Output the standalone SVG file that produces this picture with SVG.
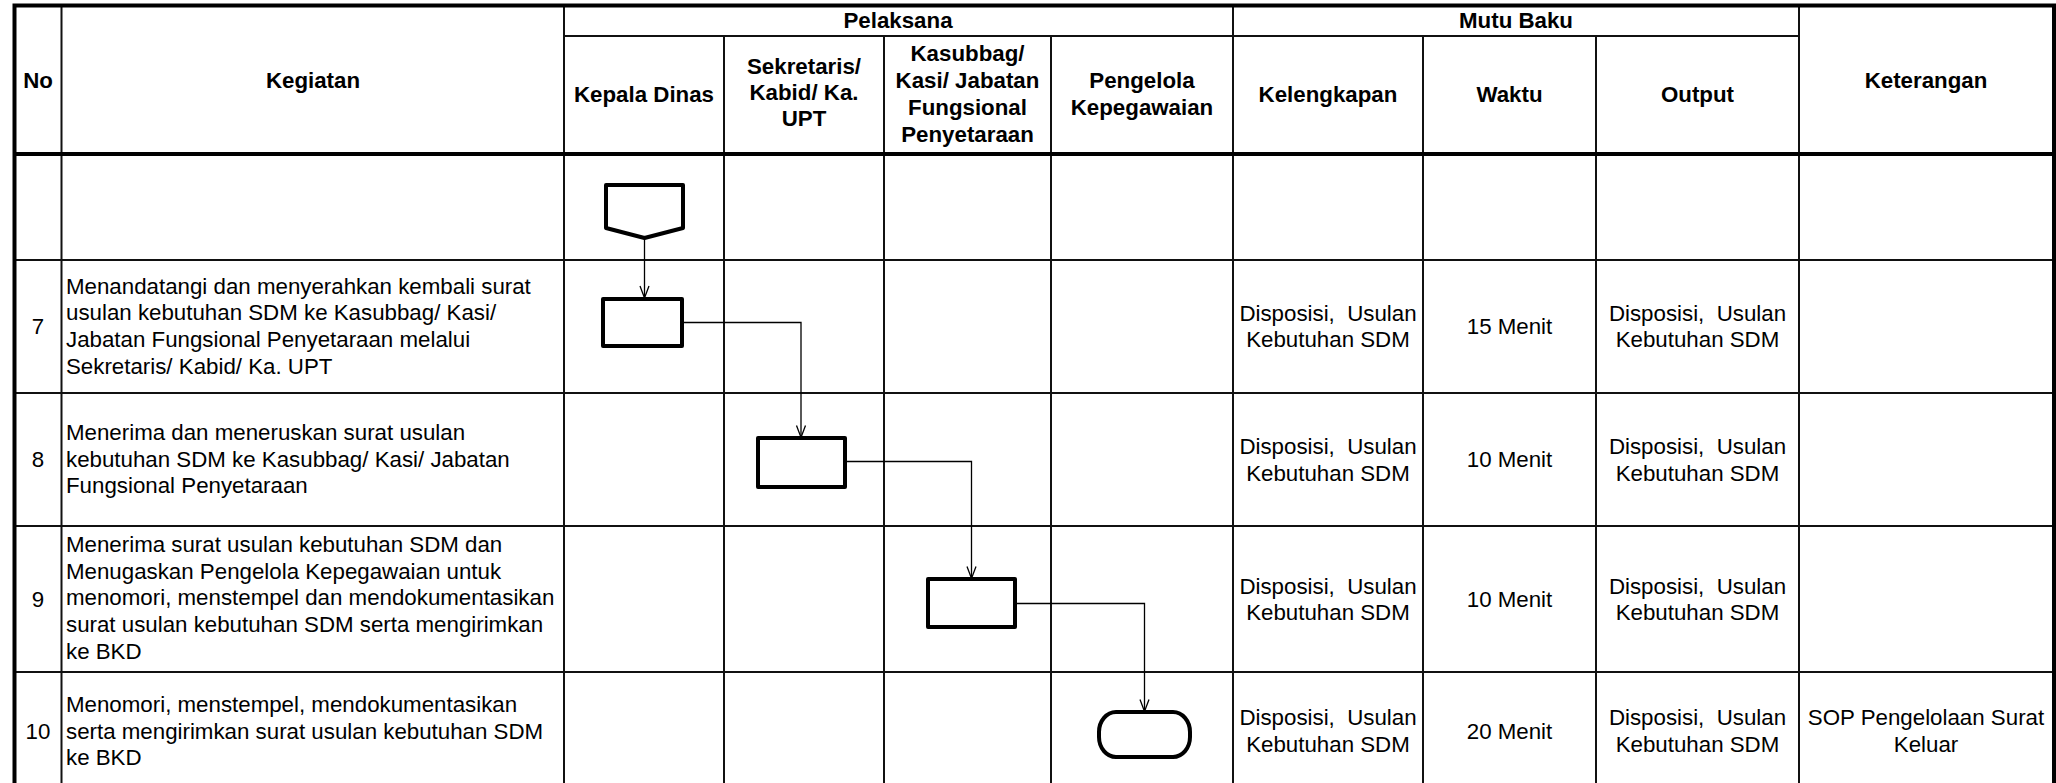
<svg xmlns="http://www.w3.org/2000/svg" width="2056" height="783" viewBox="0 0 2056 783">
<style>
.t{font-family:"Liberation Sans",Arial,sans-serif;font-size:22.3px;fill:#000}
.b{font-weight:bold}
.c{text-anchor:middle}
.g{stroke:#111;stroke-width:2;fill:none}
.k{stroke:#000;stroke-width:4;fill:none}
.s{stroke:#000;stroke-width:4;fill:#fff;stroke-linejoin:round}
.cn{stroke:#000;stroke-width:1.3;fill:none}
</style>
<defs>
<marker id="arr" markerUnits="userSpaceOnUse" markerWidth="20" markerHeight="20" refX="0" refY="0" orient="auto" overflow="visible">
<path d="M-12,-4.5 L0,0 L-12,4.5" fill="none" stroke="#000" stroke-width="1.3"/>
</marker>
</defs>
<rect x="0" y="0" width="2056" height="783" fill="#fff"/>
<g id="table">
<path class="g" d="M564 36H1799 M14 260H2054 M14 393H2054 M14 526H2054 M14 672H2054"/>
<path class="g" d="M61.5 5V783 M564 5V783 M724 36V783 M884 36V783 M1051 36V783 M1233 5V783 M1423 36V783 M1596 36V783 M1799 5V783"/>
<path class="k" d="M14.5 783V5.5H2054V783 M13 154H2055"/>
</g>
<g id="header">
<text class="t b c" x="38" y="88">No</text>
<text class="t b c" x="313" y="88">Kegiatan</text>
<text class="t b c" x="898" y="28">Pelaksana</text>
<text class="t b c" x="1516" y="28">Mutu Baku</text>
<text class="t b c" x="644" y="102">Kepala Dinas</text>
<text class="t b c" x="804" y="74">Sekretaris/</text>
<text class="t b c" x="804" y="100">Kabid/ Ka.</text>
<text class="t b c" x="804" y="126">UPT</text>
<text class="t b c" x="967.5" y="60.5">Kasubbag/</text>
<text class="t b c" x="967.5" y="87.5">Kasi/ Jabatan</text>
<text class="t b c" x="967.5" y="114.5">Fungsional</text>
<text class="t b c" x="967.5" y="141.5">Penyetaraan</text>
<text class="t b c" x="1142" y="88">Pengelola</text>
<text class="t b c" x="1142" y="114.5">Kepegawaian</text>
<text class="t b c" x="1328" y="102">Kelengkapan</text>
<text class="t b c" x="1509.5" y="102">Waktu</text>
<text class="t b c" x="1697.5" y="102">Output</text>
<text class="t b c" x="1926" y="88">Keterangan</text>
</g>
<g id="row7">
<text class="t c" x="38" y="334">7</text>
<text class="t" x="66" y="293.5">Menandatangi dan menyerahkan kembali surat</text>
<text class="t" x="66" y="320.2">usulan kebutuhan SDM ke Kasubbag/ Kasi/</text>
<text class="t" x="66" y="346.9">Jabatan Fungsional Penyetaraan melalui</text>
<text class="t" x="66" y="373.6">Sekretaris/ Kabid/ Ka. UPT</text>
<text class="t c" x="1328" y="321" xml:space="preserve">Disposisi,  Usulan</text>
<text class="t c" x="1328" y="347">Kebutuhan SDM</text>
<text class="t c" x="1509.5" y="334">15 Menit</text>
<text class="t c" x="1697.5" y="321" xml:space="preserve">Disposisi,  Usulan</text>
<text class="t c" x="1697.5" y="347">Kebutuhan SDM</text>
</g>
<g id="row8">
<text class="t c" x="38" y="467">8</text>
<text class="t" x="66" y="440">Menerima dan meneruskan surat usulan</text>
<text class="t" x="66" y="466.7">kebutuhan SDM ke Kasubbag/ Kasi/ Jabatan</text>
<text class="t" x="66" y="493.4">Fungsional Penyetaraan</text>
<text class="t c" x="1328" y="454" xml:space="preserve">Disposisi,  Usulan</text>
<text class="t c" x="1328" y="480.5">Kebutuhan SDM</text>
<text class="t c" x="1509.5" y="467">10 Menit</text>
<text class="t c" x="1697.5" y="454" xml:space="preserve">Disposisi,  Usulan</text>
<text class="t c" x="1697.5" y="480.5">Kebutuhan SDM</text>
</g>
<g id="row9">
<text class="t c" x="38" y="607">9</text>
<text class="t" x="66" y="552">Menerima surat usulan kebutuhan SDM dan</text>
<text class="t" x="66" y="578.7">Menugaskan Pengelola Kepegawaian untuk</text>
<text class="t" x="66" y="605.4">menomori, menstempel dan mendokumentasikan</text>
<text class="t" x="66" y="632.1">surat usulan kebutuhan SDM serta mengirimkan</text>
<text class="t" x="66" y="658.8">ke BKD</text>
<text class="t c" x="1328" y="593.5" xml:space="preserve">Disposisi,  Usulan</text>
<text class="t c" x="1328" y="620">Kebutuhan SDM</text>
<text class="t c" x="1509.5" y="607">10 Menit</text>
<text class="t c" x="1697.5" y="593.5" xml:space="preserve">Disposisi,  Usulan</text>
<text class="t c" x="1697.5" y="620">Kebutuhan SDM</text>
</g>
<g id="row10">
<text class="t c" x="38" y="738.5">10</text>
<text class="t" x="66" y="712">Menomori, menstempel, mendokumentasikan</text>
<text class="t" x="66" y="738.7">serta mengirimkan surat usulan kebutuhan SDM</text>
<text class="t" x="66" y="765.4">ke BKD</text>
<text class="t c" x="1328" y="725" xml:space="preserve">Disposisi,  Usulan</text>
<text class="t c" x="1328" y="751.5">Kebutuhan SDM</text>
<text class="t c" x="1509.5" y="738.5">20 Menit</text>
<text class="t c" x="1697.5" y="725" xml:space="preserve">Disposisi,  Usulan</text>
<text class="t c" x="1697.5" y="751.5">Kebutuhan SDM</text>
<text class="t c" x="1926" y="725">SOP Pengelolaan Surat</text>
<text class="t c" x="1926" y="751.5">Keluar</text>
</g>
<g id="connectors">
<path class="cn" d="M644.5 238V298" marker-end="url(#arr)"/>
<path class="cn" d="M682 322.5H801V437.5" marker-end="url(#arr)"/>
<path class="cn" d="M845 461.5H971.5V578.5" marker-end="url(#arr)"/>
<path class="cn" d="M1015 603.5H1144.5V711.5" marker-end="url(#arr)"/>
</g>
<g id="node-start">
<polygon class="s" points="606,185 683,185 683,228 644.5,238 606,228"/>
</g>
<g id="node-7">
<rect class="s" x="603" y="299" width="79" height="47"/>
</g>
<g id="node-8">
<rect class="s" x="758" y="438" width="87" height="49"/>
</g>
<g id="node-9">
<rect class="s" x="928" y="579" width="87" height="48"/>
</g>
<g id="node-10">
<rect class="s" x="1099" y="712" width="91" height="45" rx="17" ry="20"/>
</g>
</svg>
